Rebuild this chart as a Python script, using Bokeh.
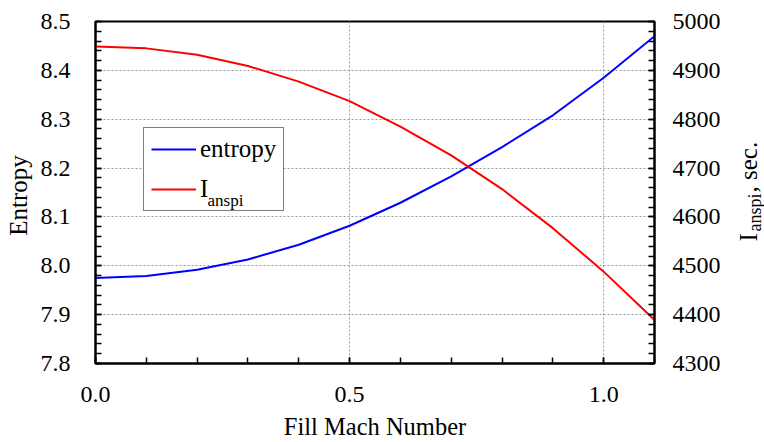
import math
from bokeh.plotting import figure
from bokeh.layouts import row
from bokeh.models import (LinearAxis, Range1d, SingleIntervalTicker, PrintfTickFormatter,
                          Legend, LegendItem, Label, BoxAnnotation)
from bokeh.embed import file_html
from bokeh.resources import INLINE

# ---- data ----
mach = [0.0, 0.1, 0.2, 0.3, 0.4, 0.5, 0.6, 0.7, 0.8, 0.9, 1.0, 1.1]
entropy = [7.975, 7.979, 7.992, 8.013, 8.043, 8.082, 8.129, 8.183, 8.243, 8.308, 8.385, 8.470]
ianspi = [4949, 4945, 4932, 4909, 4877, 4837, 4785, 4726, 4657, 4577, 4488, 4389]

x_lim = (0.0, 1.1)
left_lim = (7.8, 8.5)
right_lim = (4300, 5000)

FONT = "Liberation Serif"

# ---- layout geometry (pixels) ----
W, H = 764, 442
FL, FT, FR, FB = 95, 21, 654, 365      # plot frame box
LEFT_W = 34                            # strip holding the left title
RIGHT_X = 728                          # start of strip holding the right title
LEG = (143, 130, 282, 213)             # legend box (left, top, right, bottom)

p = figure(width=RIGHT_X - LEFT_W, height=H, output_backend="svg", toolbar_location=None,
           x_range=Range1d(*x_lim), y_range=Range1d(*left_lim),
           min_border_left=FL - LEFT_W, min_border_right=RIGHT_X - FR,
           min_border_top=FT, min_border_bottom=H - FB)
p.extra_y_ranges = {"right": Range1d(*right_lim)}
p.outline_line_color = "black"
p.outline_line_width = 2
p.background_fill_color = "white"
p.border_fill_color = "white"


def style_axis(ax):
    ax.axis_line_color = "black"
    ax.axis_line_width = 2
    ax.major_tick_in = 6
    ax.major_tick_out = 0
    ax.minor_tick_in = 6
    ax.minor_tick_out = 0
    ax.major_tick_line_color = "black"
    ax.minor_tick_line_color = "black"
    ax.major_tick_line_width = 1.5
    ax.minor_tick_line_width = 1.5
    ax.major_label_text_font = FONT
    ax.major_label_text_font_size = "24px"
    ax.major_label_text_color = "black"


xa = p.xaxis[0]
xa.ticker = SingleIntervalTicker(interval=0.5, num_minor_ticks=5)
xa.formatter = PrintfTickFormatter(format="%.1f")
style_axis(xa)
xa.major_label_standoff = 23
xa.axis_label = "Fill Mach Number"
xa.axis_label_text_font = FONT
xa.axis_label_text_font_size = "24.5px"
xa.axis_label_text_font_style = "normal"
xa.axis_label_text_color = "black"
xa.axis_label_standoff = 8

ya = p.yaxis[0]
ya.ticker = SingleIntervalTicker(interval=0.1, num_minor_ticks=5)
ya.formatter = PrintfTickFormatter(format="%.1f")
style_axis(ya)
ya.major_label_standoff = 25

ra = LinearAxis(y_range_name="right", ticker=SingleIntervalTicker(interval=100, num_minor_ticks=5))
style_axis(ra)
ra.major_label_standoff = 18
p.add_layout(ra, "right")

for g in (p.xgrid[0], p.ygrid[0]):
    g.grid_line_color = "#999999"
    g.grid_line_dash = "2 2"
    g.grid_line_width = 1

x0, x1 = x_lim
y0, y1 = left_lim
ymid = (y0 + y1) / 2


def px_to_x(px):
    return x0 + (px - FL) / (FR - FL) * (x1 - x0)


def py_to_y(py):
    return y0 + (FB - py) / (FB - FT) * (y1 - y0)


# white panel behind the (transparent) legend, hiding the grid there
p.add_layout(BoxAnnotation(left=px_to_x(LEG[0]), right=px_to_x(LEG[2]),
                           top=py_to_y(LEG[1]), bottom=py_to_y(LEG[3]),
                           fill_color="white", fill_alpha=1.0, line_color=None, level="underlay"))

blue = p.line(mach, entropy, line_color="#0000ff", line_width=2)
red = p.line(mach, ianspi, line_color="#ff0000", line_width=2, y_range_name="right")

legend = Legend(items=[LegendItem(label="entropy", renderers=[blue]),
                       LegendItem(label="I", renderers=[red])],
                location=(LEG[0] - FL, FB - LEG[3]), padding=7, spacing=12, glyph_width=45,
                glyph_height=20, label_standoff=4, label_height=20, margin=0,
                border_line_color="black", border_line_width=1.5,
                background_fill_alpha=0.0,
                label_text_font=FONT, label_text_font_size="25px", label_text_color="black")
p.add_layout(legend)

# subscript of the legend label "I"
p.add_layout(Label(x=x0, y=y0, x_offset=112, y_offset=163, text="anspi", level="overlay",
                   text_font=FONT, text_font_size="17px", text_color="black",
                   text_align="left", text_baseline="alphabetic"))


def strip(width, height, x_range, y_range, bl, br, bt, bb):
    s = figure(width=width, height=height, output_backend="svg", toolbar_location=None,
               x_range=x_range, y_range=y_range, x_axis_location=None, y_axis_location=None,
               min_border_left=bl, min_border_right=br, min_border_top=bt, min_border_bottom=bb)
    s.outline_line_color = None
    s.grid.visible = False
    s.background_fill_color = "white"
    s.border_fill_color = "white"
    return s


# left strip: "Entropy"
p_left = strip(LEFT_W, H, Range1d(0, 1), p.y_range, 0, 0, FT, H - FB)
p_left.add_layout(Label(x=1, y=ymid, x_offset=-16, y_offset=-3, text="Entropy", angle=math.pi / 2,
                        text_font=FONT, text_font_size="25px", text_color="black",
                        text_align="center", text_baseline="alphabetic"))

# right strip: "I_anspi, sec."
p_right = strip(W - RIGHT_X, H, Range1d(0, 1), p.y_range, 0, 0, FT, H - FB)
for txt, dx, dy, size in (("I", 20, 122, "25px"), ("anspi", 26, 132, "18px"), (", sec.", 20, 171, "25px")):
    p_right.add_layout(Label(x=0, y=y0, x_offset=dx, y_offset=dy, text=txt, angle=math.pi / 2,
                             text_font=FONT, text_font_size=size, text_color="black",
                             text_align="left", text_baseline="alphabetic"))

layout = row(p_left, p, p_right)

open("out.html", "w").write(file_html(layout, INLINE))
